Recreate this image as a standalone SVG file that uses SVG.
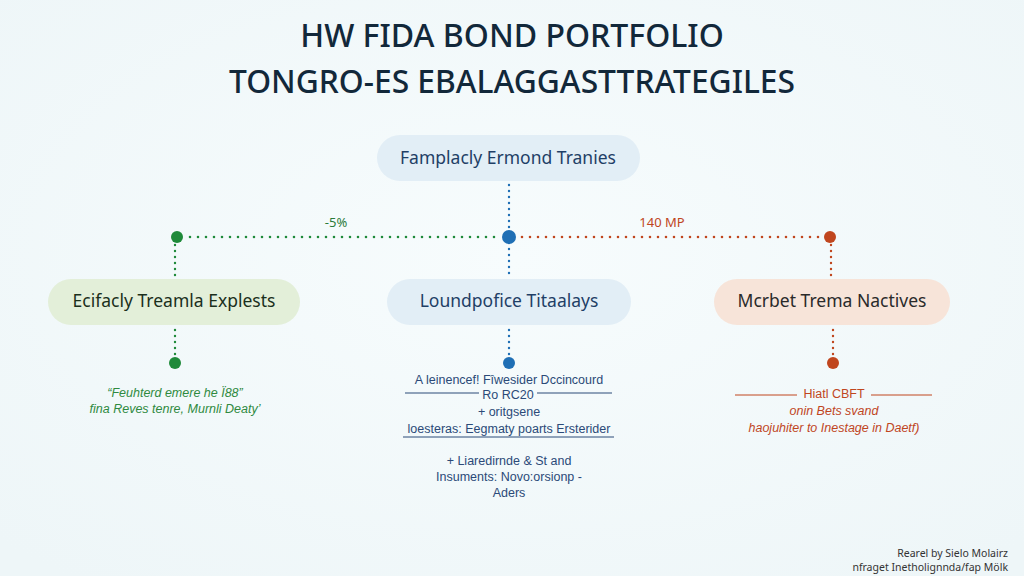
<svg xmlns="http://www.w3.org/2000/svg" width="1024" height="576" viewBox="0 0 1024 576">
<defs>
<radialGradient id="bg" cx="50%" cy="45%" r="70%">
<stop offset="0" stop-color="#f7fcfd"/><stop offset="1" stop-color="#eef6f8"/>
</radialGradient>
<style>
.title{font-family:"Noto Sans","Open Sans",sans-serif;font-size:32px;fill:#12283a;text-anchor:middle;font-weight:500}
.nt{font-family:"Noto Sans","Open Sans",sans-serif;font-size:17.5px;text-anchor:middle}
.lbl{font-family:"Noto Sans",sans-serif;font-size:13px;text-anchor:middle}
.body{font-family:"Liberation Sans",Arial,sans-serif;font-size:12.5px;text-anchor:middle}
.it{font-style:italic}
.foot{font-family:"Noto Sans",sans-serif;font-size:10.5px;fill:#333;text-anchor:end}
.g{stroke:#1f8a3a}.b{stroke:#1f6fb5}.o{stroke:#c0461e}
.dot{fill:none;stroke-width:2.6;stroke-linecap:round;stroke-dasharray:0 8}
.vd{fill:none;stroke-width:2.4;stroke-linecap:round;stroke-dasharray:0 6}
.rule{stroke-width:1}
</style>
</defs>
<rect width="1024" height="576" fill="url(#bg)"/>
<g id="title">
<text class="title" x="512" y="47">HW FIDA BOND PORTFOLIO</text>
<text class="title" x="512" y="93" textLength="566" lengthAdjust="spacingAndGlyphs">TONGRO-ES EBALAGGASTTRATEGILES</text>
</g>
<g id="connectors">
<line class="vd b" x1="509" y1="185" x2="509" y2="233"/>
<line class="vd b" x1="509" y1="243" x2="509" y2="278"/>
<line class="dot g" x1="190" y1="237" x2="500" y2="237"/>
<line class="dot o" x1="522" y1="237" x2="822" y2="237"/>
<line class="vd g" x1="175" y1="245" x2="175" y2="278"/>
<line class="vd o" x1="831" y1="245" x2="831" y2="278"/>
<line class="vd g" x1="175" y1="330" x2="175" y2="356"/>
<line class="vd b" x1="509" y1="330" x2="509" y2="356"/>
<line class="vd o" x1="833" y1="330" x2="833" y2="356"/>
<circle cx="177" cy="237" r="6" fill="#1f8a3a"/>
<circle cx="509" cy="237" r="7" fill="#1f6fb5"/>
<circle cx="830" cy="237" r="6" fill="#c0461e"/>
<circle cx="175" cy="363" r="6" fill="#1f8a3a"/>
<circle cx="509" cy="363" r="6" fill="#1f6fb5"/>
<circle cx="833" cy="363" r="6" fill="#c0461e"/>
<text class="lbl" x="336" y="227" fill="#2a7a3a">-5%</text>
<text class="lbl" x="662" y="227" fill="#c0461e">140 MP</text>
</g>
<g id="node-top">
<rect x="377" y="135" width="263" height="46" rx="23" fill="#e2eef6"/>
<text class="nt" x="508" y="164" fill="#1f3f66">Famplacly Ermond Tranies</text>
</g>
<g id="node-left">
<rect x="48" y="279" width="252" height="46" rx="23" fill="#e3efd9"/>
<text class="nt" x="174" y="307" fill="#1b2f1c">Ecifacly Treamla Explests</text>
</g>
<g id="node-mid">
<rect x="387" y="279" width="244" height="46" rx="23" fill="#e2eef6"/>
<text class="nt" x="509" y="307" fill="#1f3f66">Loundpofice Titaalays</text>
</g>
<g id="node-right">
<rect x="714" y="279" width="236" height="46" rx="23" fill="#f7e4d9"/>
<text class="nt" x="832" y="307" fill="#2a2a2a">Mcrbet Trema Nactives</text>
</g>
<g id="text-left" fill="#2f8a3f">
<text class="body it" x="175" y="397">“Feuhterd emere he Ï88”</text>
<text class="body it" x="175" y="413">fina Reves tenre, Murnli Deaty’</text>
</g>
<g id="text-mid" fill="#2b4a78">
<text class="body" x="509" y="384">A leinencef! Fîwesider Dccincourd</text>
<line class="rule" x1="405" y1="393" x2="479" y2="393" stroke="#2b4a78"/>
<line class="rule" x1="537" y1="393" x2="612" y2="393" stroke="#2b4a78"/>
<text class="body" x="508" y="399">Ro RC20</text>
<text class="body" x="509" y="416">+ oritgsene</text>
<text class="body" x="509" y="433">loesteras: Eegmaty poarts Ersterider</text>
<line class="rule" x1="403" y1="437" x2="614" y2="437" stroke="#2b4a78"/>
<text class="body" x="509" y="465">+ Liaredirnde &amp; St and</text>
<text class="body" x="509" y="481">Insuments: Novo:orsionp -</text>
<text class="body" x="509" y="497">Aders</text>
</g>
<g id="text-right" fill="#c0461e">
<line class="rule" x1="735" y1="395" x2="797" y2="395" stroke="#c0461e"/>
<line class="rule" x1="871" y1="395" x2="932" y2="395" stroke="#c0461e"/>
<text class="body" x="834" y="398">Hiatl CBFT</text>
<text class="body it" x="834" y="415">onin Bets svand</text>
<text class="body it" x="834" y="432">haojuhiter to Inestage in Daetf)</text>
</g>
<g id="footer">
<text class="foot" x="1008" y="557">Rearel by Sielo Molairz</text>
<text class="foot" x="1008" y="571">nfraget Inetholignnda/fap Mölk</text>
</g>
</svg>
